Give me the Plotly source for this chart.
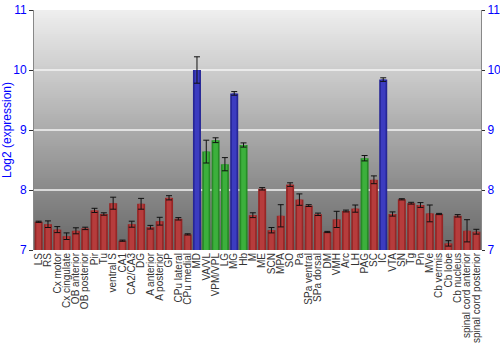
import plotly.graph_objects as go

categories = ["LS", "RS", "Cx motor", "Cx cingulate", "OB anterior", "OB posterior", "Pir", "Tu",
              "ventral S", "CA1", "CA2/CA3", "DG", "A anterior", "A posterior", "GP", "CPu lateral",
              "CPu medial", "MD", "VA/VL", "VPM/VPL", "LG", "MG", "Hb", "M", "ME", "SCN", "MPA", "SO",
              "Pa", "SPa ventral", "SPa dorsal", "DM", "VMH", "Arc", "LH", "PAG", "SC", "IC", "VTA",
              "SN", "Tg", "Pn", "MVe", "Cb vermis", "Cb lobe", "Cb nucleus", "spinal cord anterior",
              "spinal cord posterior"]
values = [7.47, 7.43, 7.34, 7.23, 7.32, 7.36, 7.66, 7.60,
          7.78, 7.155, 7.43, 7.77, 7.38, 7.48, 7.87, 7.52,
          7.26, 10.0, 8.64, 8.83, 8.43, 9.61, 8.75, 7.58, 8.02, 7.33, 7.57, 8.09,
          7.84, 7.74, 7.595, 7.30, 7.51, 7.65, 7.69, 8.53, 8.17, 9.84, 7.60,
          7.845, 7.78, 7.75, 7.61, 7.60, 7.11, 7.57, 7.32,
          7.305]
errors = [0.01, 0.055, 0.05, 0.055, 0.05, 0.02, 0.035, 0.02,
          0.1, 0.01, 0.05, 0.09, 0.03, 0.065, 0.035, 0.02,
          0.01, 0.22, 0.19, 0.04, 0.11, 0.03, 0.035, 0.04, 0.02, 0.045, 0.185, 0.03,
          0.095, 0.015, 0.02, 0.01, 0.135, 0.015, 0.06, 0.045, 0.065, 0.03, 0.035,
          0.01, 0.015, 0.04, 0.14, 0.01, 0.045, 0.02, 0.185,
          0.04]
groups = ["r"] * 17 + ["b", "g", "g", "g", "b", "g"] + ["r"] * 12 + ["g", "r", "b"] + ["r"] * 10
y_ticks = [7, 8, 9, 10, 11]

edge_col = {"r": "#962626", "b": "#262696", "g": "#268c26"}
mid_col = {"r": "#b63c3c", "b": "#3c3cc0", "g": "#3cb03c"}

fig = go.Figure()

# gradient background
n = 120
for i in range(n):
    t = i / (n - 1)
    c = int(round(238 - (238 - 104) * t))
    fig.add_shape(type="rect", xref="x domain", yref="y domain",
                  x0=0, x1=1, y0=max(0, 1 - (i + 1.6) / n), y1=1 - i / n,
                  fillcolor=f"rgb({c},{c},{c})", line_width=0, layer="below")

fig.add_trace(go.Bar(x=categories, y=[v - 7 for v in values], base=7,
                     marker=dict(color=[edge_col[g] for g in groups], line=dict(width=0)),
                     width=0.86, hoverinfo="skip"))
fig.add_trace(go.Bar(x=categories, y=[v - 7 for v in values], base=7,
                     marker=dict(color=[mid_col[g] for g in groups], line=dict(width=0)),
                     width=0.5,
                     error_y=dict(type="data", array=errors, color="#111111", thickness=1, width=3)))
fig.add_trace(go.Scatter(x=[categories[0]], y=[7], yaxis="y2", mode="markers",
                         marker=dict(opacity=0), hoverinfo="skip", showlegend=False))

for yv in [8, 9, 10]:
    fig.add_shape(type="line", xref="x domain", yref="y", x0=0, x1=1, y0=yv, y1=yv,
                  line=dict(color="#f4f4f4", width=1.5), layer="below")

fig.update_layout(
    width=500, height=350,
    margin=dict(l=34, r=19, t=10, b=100),
    barmode="overlay", showlegend=False,
    plot_bgcolor="rgba(0,0,0,0)", paper_bgcolor="white",
    font=dict(family="Liberation Sans, Arial, sans-serif"),
    xaxis=dict(type="category", tickmode="array", tickvals=categories, ticktext=categories,
               tickangle=-90, tickfont=dict(size=10, color="#333333"), automargin=False,
               showgrid=False, ticks="", showline=False, range=[-0.5, len(categories) - 0.5]),
    yaxis=dict(range=[7, 11], tickvals=y_ticks, showgrid=False, automargin=False,
               tickfont=dict(size=12, color="#0000ff"), ticks="outside", ticklen=4,
               tickcolor="#333333", showline=True, linecolor="#888888",
               title=dict(text="Log2 (expression)", font=dict(size=12, color="#0000ff"))),
    yaxis2=dict(range=[7, 11], tickvals=y_ticks, overlaying="y", side="right",
                showgrid=False, tickfont=dict(size=12, color="#0000ff"), ticks="outside",
                automargin=False, ticklabelstandoff=0,
                ticklen=3, tickcolor="#333333", showline=True, linecolor="#888888"),
)

fig.write_html("out.html")
